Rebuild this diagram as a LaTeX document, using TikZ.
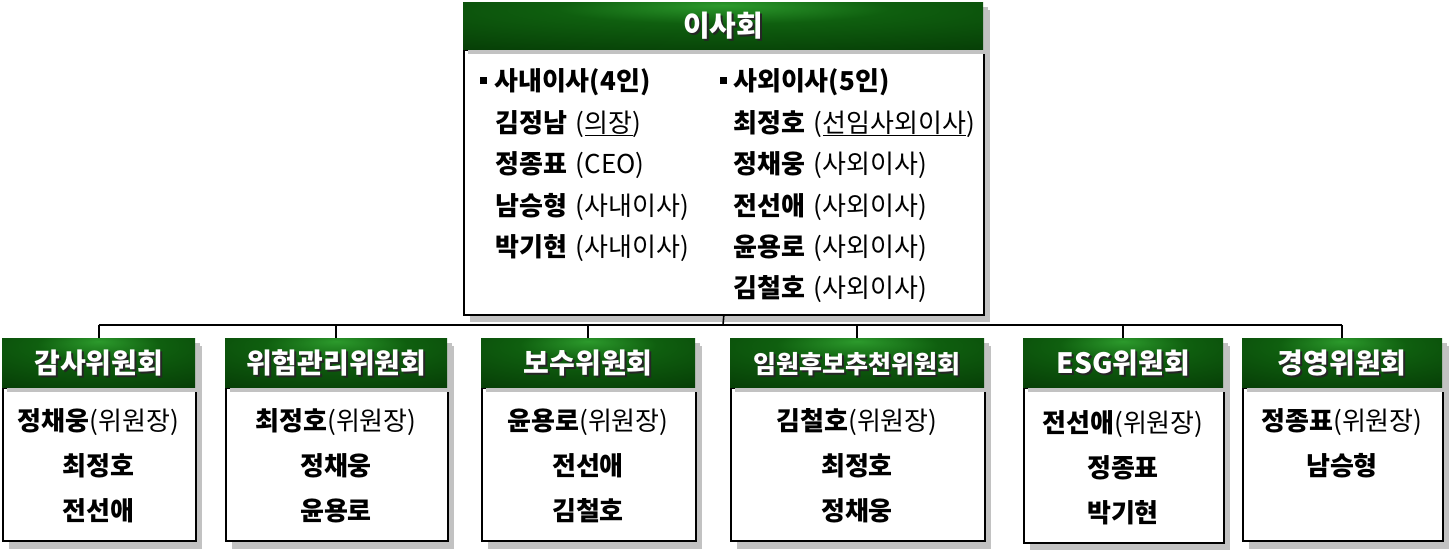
\documentclass[tikz,border=0pt]{standalone}
\usepackage{fontspec}
\setmainfont{Noto Sans CJK KR}
\usetikzlibrary{calc}
\definecolor{darkgreen}{HTML}{053A05}
\definecolor{midgreen}{HTML}{0F5F0F}
\definecolor{glowgreen}{HTML}{2C9A2C}
\definecolor{shadowgray}{HTML}{C2C2C2}
\pgfdeclareradialshading{hdrglow}{\pgfpoint{0bp}{22bp}}{color(0bp)=(glowgreen); color(16bp)=(midgreen); color(48bp)=(darkgreen); color(90bp)=(darkgreen)}
\tikzset{
  hdrbox/.style={anchor=north west, inner sep=0, shade, shading=hdrglow},
  bodybox/.style={anchor=north west, inner sep=0, fill=white, draw=black, line width=1.6pt},
  hdrtext/.style={text=white, inner sep=0, font=\bfseries\fontsize{28}{32}\selectfont, text height=23.5pt, text depth=1.7pt},
  hdrshade/.style={hdrtext, text=black!85},
  member/.style={inner sep=0, font=\fontsize{26}{30}\selectfont, text height=21.8pt, text depth=1.6pt},
  link/.style={line width=1.6pt},
}
\newcommand{\gap}{\hspace{9pt}}
\begin{document}
\begin{tikzpicture}[x=1pt,y=-1pt]
  \useasboundingbox (0,0) rectangle (1451,553);
  % board of directors
  \fill[shadowgray] (470,10) rectangle (990,322);
  \node[bodybox, minimum width=520, minimum height=265] (board) at (463,49) {};
  \fill[shadowgray] (468,7) rectangle (988,54);
  \node[hdrbox, minimum width=520, minimum height=47] (boardH) at (463,2) {};
  \node[hdrshade, font=\bfseries\fontsize{29}{32}\selectfont] (boardS) at ([shift={(2,2)}]boardH.center) {이사회};
  \node[hdrtext, font=\bfseries\fontsize{29}{32}\selectfont] (boardT) at (boardH.center) {이사회};
  %
  \fill (480,77) rectangle (487,84);
  \node[member, anchor=west] (inT) at (494,80) {\bfseries 사내이사(4인)};
  \node[member, anchor=west] (in1) at (495,122) {\textbf{김정남}\gap(\underline{의장})};
  \node[member, anchor=west] (in2) at (495,163) {\textbf{정종표}\gap(CEO)};
  \node[member, anchor=west] (in3) at (495,205) {\textbf{남승형}\gap(사내이사)};
  \node[member, anchor=west] (in4) at (495,246) {\textbf{박기현}\gap(사내이사)};
  %
  \fill (720,77) rectangle (727,84);
  \node[member, anchor=west] (outT) at (733,80) {\bfseries 사외이사(5인)};
  \node[member, anchor=west] (out1) at (733,122) {\textbf{최정호}\gap(\underline{선임사외이사})};
  \node[member, anchor=west] (out2) at (733,163) {\textbf{정채웅}\gap(사외이사)};
  \node[member, anchor=west] (out3) at (733,205) {\textbf{전선애}\gap(사외이사)};
  \node[member, anchor=west] (out4) at (733,246) {\textbf{윤용로}\gap(사외이사)};
  \node[member, anchor=west] (out5) at (733,287) {\textbf{김철호}\gap(사외이사)};
  % audit committee
  \fill[shadowgray] (9,346) rectangle (202,549);
  \node[bodybox, minimum width=193, minimum height=153] (audit) at (2,387) {};
  \fill[shadowgray] (7,343) rectangle (200,392);
  \node[hdrbox, minimum width=193, minimum height=49] (auditH) at (2,338) {};
  \node[hdrshade] (auditS) at ([shift={(2,2)}]auditH.center) {감사위원회};
  \node[hdrtext] (auditT) at (auditH.center) {감사위원회};
  \node[member] (audit1) at (98.5,420) {\textbf{정채웅}(위원장)};
  \node[member] (audit2) at (98.5,465) {\bfseries 최정호};
  \node[member] (audit3) at (98.5,510) {\bfseries 전선애};
  % risk management committee
  \fill[shadowgray] (232,346) rectangle (454,549);
  \node[bodybox, minimum width=222, minimum height=153] (risk) at (225,387) {};
  \fill[shadowgray] (230,343) rectangle (452,392);
  \node[hdrbox, minimum width=222, minimum height=49] (riskH) at (225,338) {};
  \node[hdrshade] (riskS) at ([shift={(2,2)}]riskH.center) {위험관리위원회};
  \node[hdrtext] (riskT) at (riskH.center) {위험관리위원회};
  \node[member] (risk1) at (336,420) {\textbf{최정호}(위원장)};
  \node[member] (risk2) at (336,465) {\bfseries 정채웅};
  \node[member] (risk3) at (336,510) {\bfseries 윤용로};
  % compensation committee
  \fill[shadowgray] (488,346) rectangle (702,549);
  \node[bodybox, minimum width=214, minimum height=153] (pay) at (481,387) {};
  \fill[shadowgray] (486,343) rectangle (700,392);
  \node[hdrbox, minimum width=214, minimum height=49] (payH) at (481,338) {};
  \node[hdrshade] (payS) at ([shift={(2,2)}]payH.center) {보수위원회};
  \node[hdrtext] (payT) at (payH.center) {보수위원회};
  \node[member] (pay1) at (588,420) {\textbf{윤용로}(위원장)};
  \node[member] (pay2) at (588,465) {\bfseries 전선애};
  \node[member] (pay3) at (588,510) {\bfseries 김철호};
  % nomination committee
  \fill[shadowgray] (737,346) rectangle (991,549);
  \node[bodybox, minimum width=254, minimum height=153] (nom) at (730,387) {};
  \fill[shadowgray] (735,343) rectangle (989,392);
  \node[hdrbox, minimum width=254, minimum height=49] (nomH) at (730,338) {};
  \node[hdrshade, font=\bfseries\fontsize{25}{30}\selectfont] (nomS) at ([shift={(2,2)}]nomH.center) {임원후보추천위원회};
  \node[hdrtext, font=\bfseries\fontsize{25}{30}\selectfont] (nomT) at (nomH.center) {임원후보추천위원회};
  \node[member] (nom1) at (857,420) {\textbf{김철호}(위원장)};
  \node[member] (nom2) at (857,465) {\bfseries 최정호};
  \node[member] (nom3) at (857,510) {\bfseries 정채웅};
  % ESG committee
  \fill[shadowgray] (1030,346) rectangle (1230,550);
  \node[bodybox, minimum width=200, minimum height=155] (esg) at (1023,387) {};
  \fill[shadowgray] (1028,343) rectangle (1228,392);
  \node[hdrbox, minimum width=200, minimum height=49] (esgH) at (1023,338) {};
  \node[hdrshade] (esgS) at ([shift={(2,2)}]esgH.center) {ESG위원회};
  \node[hdrtext] (esgT) at (esgH.center) {ESG위원회};
  \node[member] (esg1) at (1123,422) {\textbf{전선애}(위원장)};
  \node[member] (esg2) at (1123,467) {\bfseries 정종표};
  \node[member] (esg3) at (1123,512) {\bfseries 박기현};
  % management committee
  \fill[shadowgray] (1249,346) rectangle (1449,549);
  \node[bodybox, minimum width=200, minimum height=153] (mgmt) at (1242,387) {};
  \fill[shadowgray] (1247,343) rectangle (1447,392);
  \node[hdrbox, minimum width=200, minimum height=49] (mgmtH) at (1242,338) {};
  \node[hdrshade] (mgmtS) at ([shift={(2,2)}]mgmtH.center) {경영위원회};
  \node[hdrtext] (mgmtT) at (mgmtH.center) {경영위원회};
  \node[member] (mgmt1) at (1342,420) {\textbf{정종표}(위원장)};
  \node[member] (mgmt2) at (1342,465) {\bfseries 남승형};
  % connectors
  \coordinate (bus) at (723,325);
  \draw[link] (board.south) -- (bus);
  \draw[link] (auditH.north |- bus) -- (mgmtH.north |- bus);
  \foreach \c in {auditH,riskH,payH,nomH,esgH,mgmtH}
    \draw[link] (\c.north |- bus) -- (\c.north);
\end{tikzpicture}
\end{document}
